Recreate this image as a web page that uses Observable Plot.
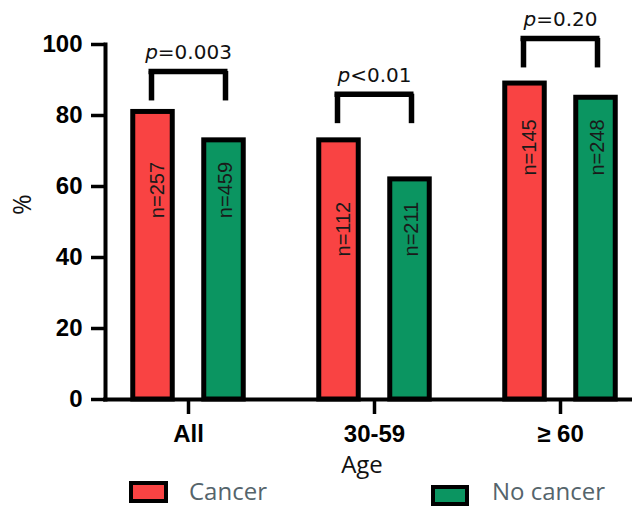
<!DOCTYPE html>
<html>
<head>
<meta charset="utf-8">
<script src="https://cdn.jsdelivr.net/npm/d3@7"></script>
<script src="https://cdn.jsdelivr.net/npm/@observablehq/plot@0.6"></script>
<style>
  html, body { margin: 0; padding: 0; background: #fff; }
  #wrap { position: relative; width: 634px; height: 506px; overflow: hidden; background: #fff; }
  #chart svg { display: block; }
  .sw { position: absolute; box-sizing: border-box; border: 4px solid #000; }
  .lt { position: absolute; font-family: "Open Sans", sans-serif; font-size: 24px; line-height: 1; color: #55646b; white-space: nowrap; }
</style>
</head>
<body>
<div id="wrap">
  <div id="chart"></div>
  <div class="sw" id="swC" style="left:129px;top:481px;width:39px;height:22px;"></div>
  <div class="lt" id="ltC" style="left:189px;top:479px;"></div>
  <div class="sw" id="swN" style="left:431px;top:485px;width:38px;height:21px;"></div>
  <div class="lt" id="ltN" style="left:492px;top:479px;"></div>
</div>
<script>
// ---- data ----
const groups = ["All", "30-59", "≥ 60"];
const series = ["Cancer", "No cancer"];
const cancer = [81, 73, 89];
const noCancer = [73, 62, 85];
const nCancer = [257, 112, 145];
const nNoCancer = [459, 211, 248];
const pLabels = ["p=0.003", "p<0.01", "p=0.20"];
const bracketTop = [92.4, 86, 101.7];
const yTicks = [0, 20, 40, 60, 80, 100];
const xLabel = "Age";
const yLabel = "%";

const RED = "#f94343";
const GREEN = "#0b9561";

const rows = groups.map((g, i) => ({
  group: g, cancer: cancer[i], noCancer: noCancer[i],
  nC: nCancer[i], nN: nNoCancer[i], p: pLabels[i], top: bracketTop[i]
}));

const half = 186.5 / 2;
const chart = Plot.plot({
  width: 634,
  height: 478,
  marginTop: 44,
  marginBottom: 79,
  marginLeft: 105,
  marginRight: 4,
  style: { background: "#fff", overflow: "visible" },
  x: { type: "band", domain: groups, range: [187 - half, 560 + half], padding: 0, axis: null },
  y: { domain: [0, 100], axis: null },
  marks: [
    Plot.barY(rows, { x: "group", y: "cancer", fill: RED, stroke: "#000", strokeWidth: 5,
      insetLeft: half - 55.5, insetRight: half + 15.5 }),
    Plot.barY(rows, { x: "group", y: "noCancer", fill: GREEN, stroke: "#000", strokeWidth: 5,
      insetLeft: half + 15.5, insetRight: half - 55.5 }),
    Plot.text(rows, { x: "group", y: d => Math.min(d.cancer, d.noCancer) - 14, text: d => "n=" + d.nC,
      rotate: -90, dx: -30.5, fontSize: 20, fontFamily: "Liberation Sans, Arial, sans-serif", fill: "#1a1a1a" }),
    Plot.text(rows, { x: "group", y: d => Math.min(d.cancer, d.noCancer) - 14, text: d => "n=" + d.nN,
      rotate: -90, dx: 37, fontSize: 20, fontFamily: "Liberation Sans, Arial, sans-serif", fill: "#1a1a1a" }),
    Plot.ruleY(rows, { x1: "group", x2: "group", y: "top", insetLeft: half - 37, insetRight: half - 37,
      strokeWidth: 5.5, strokeLinecap: "square", stroke: "#000" }),
    Plot.ruleX(rows, { x: "group", y1: "top", y2: d => d.top - 8.3, dx: -37, strokeWidth: 5.5, stroke: "#000" }),
    Plot.ruleX(rows, { x: "group", y1: "top", y2: d => d.top - 8.3, dx: 37, strokeWidth: 5.5, stroke: "#000" }),
    Plot.text(rows, { x: "group", y: d => d.top + 3.5, text: "p", lineAnchor: "bottom",
      fontSize: 20, fontFamily: "DejaVu Sans, sans-serif", fill: "#111", className: "pval" }),
    Plot.axisY(yTicks, { tickSize: 14, tickPadding: 9, fontSize: 24, fontWeight: "bold",
      fontFamily: "Liberation Sans, Arial, sans-serif", strokeWidth: 3.5, label: null, color: "#000" }),
    Plot.axisX({ tickSize: 15, tickPadding: 10, fontSize: 24, fontWeight: "bold",
      fontFamily: "Liberation Sans, Arial, sans-serif", strokeWidth: 3.5, label: null, color: "#000" }),
    Plot.frame({ anchor: "left", stroke: "#000", strokeWidth: 4 }),
    Plot.ruleY([0], { stroke: "#000", strokeWidth: 4, strokeLinecap: "square" }),
    Plot.text([xLabel], { frameAnchor: "bottom", lineAnchor: "top", dy: 56, dx: -6,
      fontSize: 24, fontFamily: "Open Sans, sans-serif", fill: "#111" }),
    Plot.text([yLabel], { frameAnchor: "left", rotate: -90, dx: -83, dy: -7,
      fontSize: 25, fontFamily: "Open Sans, sans-serif", fill: "#111" })
  ]
});

// italic "p" in p-value labels
const NS = "http://www.w3.org/2000/svg";
chart.querySelectorAll(".pval text").forEach(t => {
  const s = t.textContent;
  t.textContent = "";
  const ts = document.createElementNS(NS, "tspan");
  ts.setAttribute("font-style", "italic");
  ts.textContent = s[0];
  t.appendChild(ts);
  t.appendChild(document.createTextNode(s.slice(1)));
});

document.getElementById("chart").appendChild(chart);

// legend
document.getElementById("swC").style.background = RED;
document.getElementById("swN").style.background = GREEN;
document.getElementById("ltC").textContent = series[0];
document.getElementById("ltN").textContent = series[1];
</script>
</body>
</html>
